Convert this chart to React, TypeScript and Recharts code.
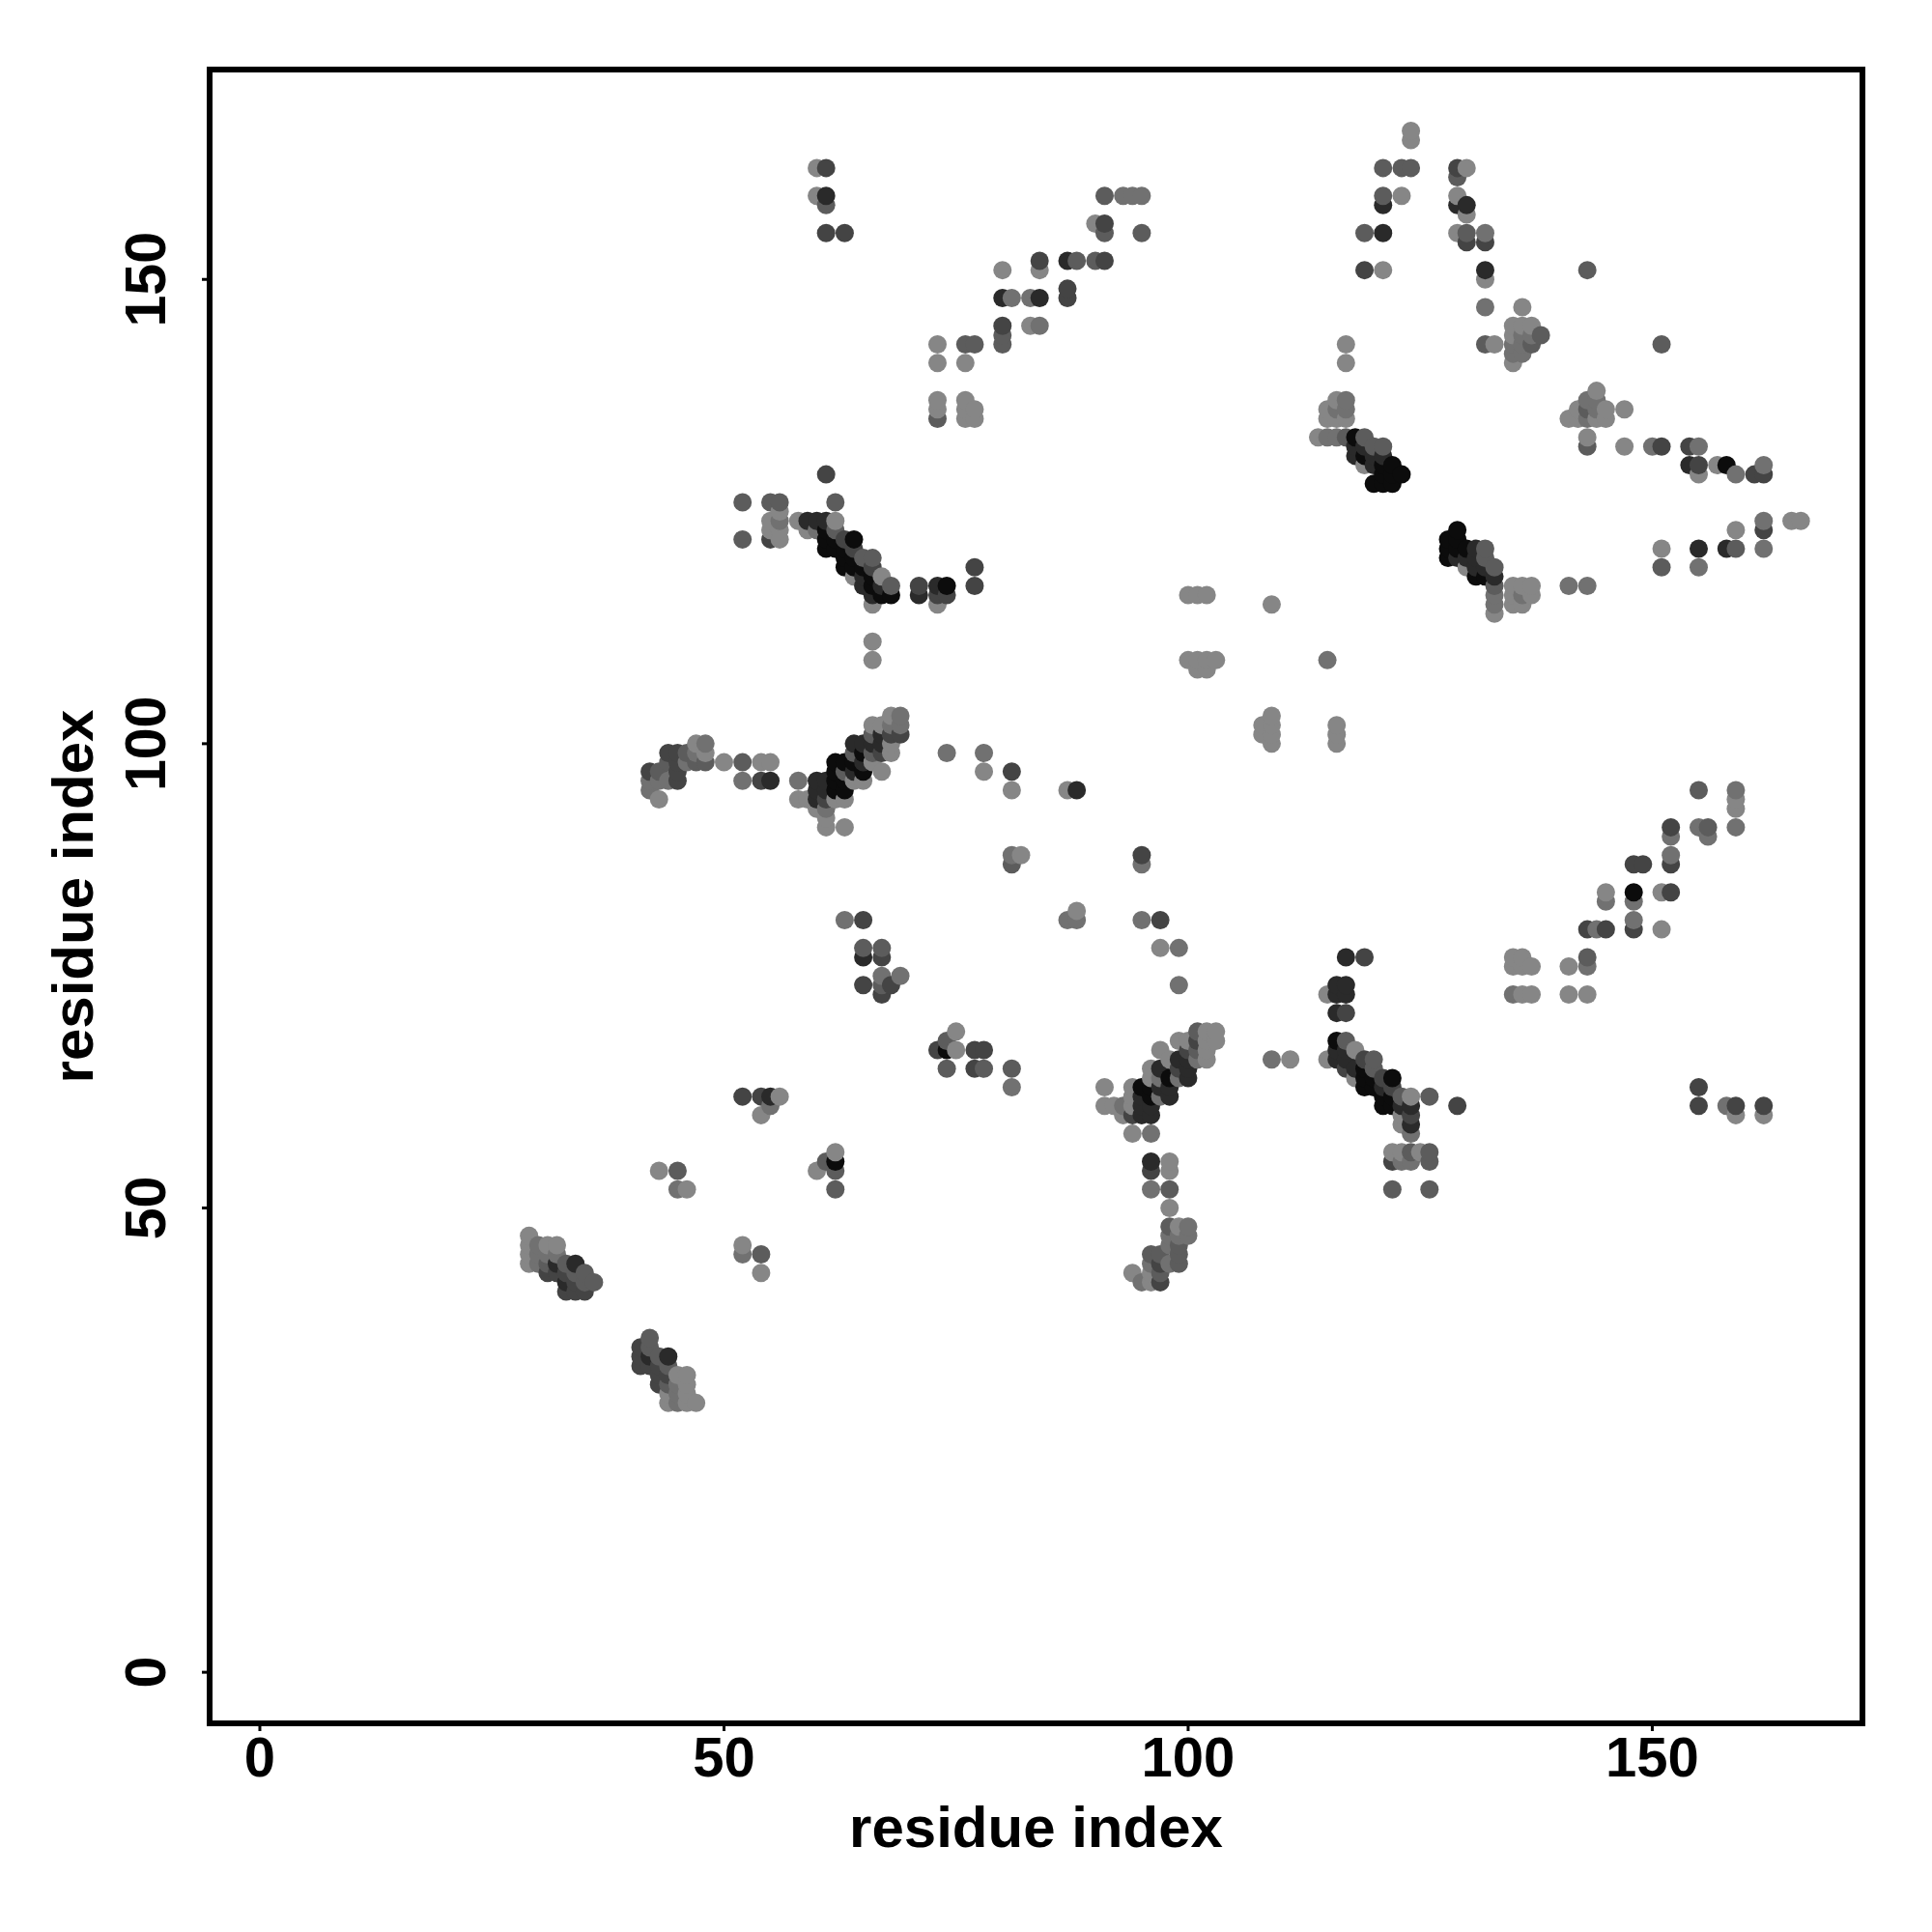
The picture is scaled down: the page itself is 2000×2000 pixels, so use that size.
import React from "react";
import { ScatterChart, Scatter, XAxis, YAxis, ReferenceArea } from "recharts";

// each contact: [residue x, residue y, strength 1 (weak) .. 6 (strong)]
type C = [number, number, number];

const clusterA: C[] = [
  [29,47,1],[29,46,1],[29,45,1],[29,44,1],[30,46,2],[31,46,1],[32,46,1],[30,45,2],[31,45,2],[32,45,2],[30,44,2],
  [31,44,3],[32,44,5],[31,43,4],[32,43,4],[33,44,3],[34,44,5],[33,43,4],[34,43,3],[35,43,3],[33,42,5],[34,42,4],[35,42,3],[36,42,3],[33,41,4],[34,41,4],[35,41,4],
];
const clusterB: C[] = [
  [42,36,3],[41,35,4],[41,34,4],[41,33,4],[42,35,3],[42,34,5],[42,33,4],[43,34,3],[44,34,5],[43,33,4],[43,32,4],[43,31,4],[44,33,3],[44,32,4],[44,31,3],
  [45,32,1],[46,32,1],[45,31,2],[46,31,1],[46,30,1],[45,30,2],[44,30,1],[44,29,1],[45,29,2],[46,29,1],[47,29,1],
];
const lowerLeft: C[] = [
  [43,54,1],[45,54,3],[45,52,2],[46,52,1],[60,54,1],[61,55,3],[62,56,1],[62,55,6],[62,54,3],[62,52,3],[52,46,1],[52,45,2],[54,45,3],[54,43,1],
  [52,62,4],[54,60,1],[54,62,4],[55,62,5],[55,61,2],[56,62,1],
];
const band100Left: C[] = [
  [42,97,4],[42,96,2],[42,95,2],[43,94,1],[43,97,3],[43,96,2],[44,99,4],[45,99,4],[46,99,3],[44,98,3],[45,98,4],[45,97,4],[44,96,2],[45,96,4],
  [46,98,2],[47,100,1],[48,100,2],[47,99,2],[48,99,1],[48,98,3],[47,98,3],[50,98,1],[52,98,3],[54,98,1],[55,98,1],[52,96,2],[54,96,4],[55,96,5],
];
const band100Right: C[] = [
  [58,96,2],[58,94,1],[59,94,1],[60,96,5],[60,95,5],[60,94,5],[61,96,5],[61,95,5],[61,94,4],[60,93,1],[61,93,2],[61,92,1],[61,91,1],[63,91,1],
  [62,98,6],[62,97,6],[63,98,6],[63,97,3],[62,96,6],[62,95,6],[63,96,6],[63,95,6],[62,94,1],[63,94,1],[64,100,5],[64,99,3],[64,98,6],[64,97,5],[65,100,5],[65,99,6],
  [65,98,5],[65,97,6],[64,96,1],[65,96,1],[66,102,1],[66,101,3],[66,100,5],[66,99,3],[66,98,1],[67,97,1],[67,102,1],[67,101,5],[67,100,5],[67,99,4],
  [68,99,1],[68,100,1],[68,103,1],[69,103,2],[68,102,2],[69,102,2],[68,101,4],[69,101,4],
];
const sparseMid: C[] = [
  [74,99,2],[78,99,2],[78,97,1],[81,97,4],[81,95,1],[81,88,2],[82,88,1],[81,87,3],[87,95,1],[88,95,5],[95,88,4],[95,87,2],
  [63,81,2],[65,81,4],[65,78,3],[67,78,3],[65,77,5],[67,77,4],[65,74,4],[67,75,2],[67,74,3],[67,73,4],[68,74,4],[69,75,2],
  [87,81,2],[88,82,1],[88,81,2],[95,81,2],[97,81,4],[97,78,1],[99,78,2],[99,74,2],
  [73,67,4],[74,68,3],[74,67,6],[75,69,1],[75,67,1],[74,65,3],[77,67,4],[78,67,4],[77,65,4],[78,65,3],[81,65,3],[81,63,2],
];
const cluster120Left: C[] = [
  [61,129,4],[52,126,3],[52,122,3],[55,126,3],[56,126,3],[62,126,3],[56,125,1],[55,124,1],[56,124,2],[55,123,1],[56,123,1],[55,122,4],[56,122,1],
  [58,124,1],[59,124,5],[60,124,5],[61,124,5],[62,124,1],[59,123,1],[60,123,2],[61,123,6],[62,123,3],[61,122,6],[61,121,6],[62,122,6],[62,121,6],
  [63,122,4],[64,122,6],[63,121,6],[64,121,4],[63,120,6],[63,119,6],[64,120,6],[64,119,6],[65,120,3],[66,120,3],[66,119,4],[65,119,6],[64,118,1],[65,118,5],[65,117,5],
  [66,118,6],[67,118,1],[66,117,6],[68,117,3],[67,117,5],[66,116,5],[67,116,6],[68,116,6],[66,115,1],[66,111,1],[66,109,1],
  [71,117,4],[71,116,5],[73,117,5],[74,117,6],[73,116,4],[74,116,4],[73,115,1],[77,119,4],[77,117,4],
];
const cluster60Left: C[] = [
  [91,63,1],[91,61,1],[92,61,1],[93,61,2],[93,60,1],[94,63,1],[94,62,1],[94,60,4],[94,58,1],[96,58,2],[95,63,6],[95,62,5],[95,61,5],[95,60,5],[94,61,1],
  [96,62,6],[96,61,5],[96,60,5],[96,65,1],[96,64,1],[96,63,6],[97,67,1],[97,65,5],[98,64,6],[98,66,1],[97,64,2],[97,63,5],[98,63,5],[98,62,5],[97,62,2],
  [99,68,1],[100,68,1],[99,66,5],[100,66,5],[101,69,3],[102,69,1],[103,69,1],[103,68,1],[101,68,4],[101,67,3],[102,68,1],[102,67,1],[102,66,1],[101,66,2],[100,65,5],[99,65,4],[100,64,5],[99,64,2],[100,67,4],
];
const cluster45Right: C[] = [
  [96,55,5],[96,54,4],[98,55,1],[98,54,1],[96,52,2],[98,52,3],[98,50,1],[98,48,3],[99,48,1],[100,48,2],[98,47,2],[99,47,2],[100,47,2],[96,45,3],[97,45,3],[99,45,3],[99,46,3],[98,46,2],
  [99,44,3],[98,44,2],[97,44,4],[96,44,2],[94,43,1],[95,42,2],[96,42,1],[97,42,4],[97,43,3],[96,43,1],
];
const cluster65Right: C[] = [
  [109,66,2],[111,66,1],[115,66,1],[116,68,6],[117,68,3],[116,67,5],[116,66,5],[116,74,5],[117,74,5],[115,73,1],[116,73,5],[117,73,5],[116,71,5],[117,71,4],[117,77,5],[119,77,4],
  [118,67,1],[119,66,4],[120,66,3],[117,67,5],[117,66,5],[117,65,4],[118,65,5],[118,64,1],[119,65,6],[119,64,6],[119,63,6],[120,65,3],[120,64,6],[120,63,6],[121,64,4],[122,64,6],[121,63,5],[122,63,4],
  [121,62,6],[121,61,6],[122,62,6],[122,61,6],[123,62,3],[124,62,1],[126,62,3],[129,61,4],[123,61,5],[124,61,5],[124,60,4],[123,60,1],[123,59,1],[124,59,5],[124,58,2],
  [122,56,1],[123,56,1],[124,56,3],[125,56,1],[126,56,3],[122,55,4],[123,55,2],[124,55,2],[126,55,3],[122,52,3],[126,52,3],
];
const upperLeftArc: C[] = [
  [60,162,1],[61,162,4],[60,159,1],[61,159,5],[61,158,3],[61,155,4],[63,155,4],
  [80,151,1],[87,152,5],[84,152,4],[84,151,1],[88,152,3],[90,152,3],[91,152,4],[91,155,3],[91,156,4],[90,156,1],[91,159,3],[93,159,2],[94,159,2],[95,159,2],[95,155,3],
  [80,148,5],[81,148,2],[83,148,2],[84,148,5],[87,149,4],[87,148,4],[80,145,4],[80,144,3],[80,143,3],[83,145,1],[84,145,2],
  [73,143,1],[73,141,1],[76,143,3],[77,143,3],[76,141,1],[73,137,1],[73,136,1],[73,135,3],[76,137,1],[76,136,1],[77,136,1],[76,135,1],[77,135,1],
];
const upperRightArc: C[] = [
  [124,166,1],[124,165,1],[121,162,3],[123,162,3],[124,162,3],[121,159,3],[121,158,5],[123,159,1],[119,155,3],[121,155,5],[119,151,4],[121,151,1],
  [129,162,4],[130,162,1],[129,161,3],[129,159,1],[129,158,5],[130,158,5],[130,157,1],[129,155,1],[130,155,3],[130,154,4],[132,155,2],[132,154,4],[132,151,5],[132,150,1],[132,147,2],[132,143,3],[133,143,1],[135,143,2],[143,151,3],
  [136,147,1],[135,145,1],[136,145,1],[137,145,1],[135,144,1],[136,144,2],[137,144,2],[138,144,3],[136,143,2],[137,143,3],[135,142,2],[136,142,2],[135,141,1],[151,143,3],[117,143,1],[117,141,1],
];
const cluster130: C[] = [
  [116,137,1],[117,137,2],[115,136,1],[116,136,2],[117,136,2],[115,135,1],[116,135,1],[117,135,1],[114,133,1],[115,133,2],[116,133,2],[117,133,3],[118,133,6],[119,133,3],
  [118,132,5],[118,131,5],[119,132,5],[119,131,6],[119,130,1],[120,132,3],[121,132,3],[121,131,5],[120,131,5],[120,130,5],[121,130,6],[122,130,6],[121,129,6],[122,129,6],[123,129,6],[120,128,6],[121,128,6],[122,128,6],
];
const cluster120Right: C[] = [
  [129,123,6],[128,122,6],[129,122,6],[128,121,6],[128,120,6],[129,121,6],[129,120,5],[130,121,6],[131,121,5],[132,121,3],[132,120,3],[130,120,5],[131,120,5],[133,119,3],[130,119,1],[131,119,5],[132,119,5],
  [131,118,6],[132,118,6],[133,118,5],[133,117,3],[133,116,2],[133,115,2],[133,114,1],[135,117,1],[136,117,1],[137,117,1],[135,116,1],[136,116,2],[137,116,1],[135,115,1],[136,115,1],
  [141,117,2],[143,117,2],[151,121,1],[151,119,3],[155,121,5],[155,119,2],[158,121,5],[159,121,3],[159,123,1],[162,121,2],[162,123,4],[162,124,2],[165,124,1],[166,124,1],
];
const upperRightTail: C[] = [
  [144,138,1],[143,137,2],[144,137,2],[142,136,1],[143,136,3],[144,136,2],[145,136,1],[147,136,1],[141,135,1],[142,135,1],[143,135,2],[144,135,1],[145,135,1],[143,133,1],[143,132,3],
  [147,132,1],[150,132,2],[151,132,4],[154,132,4],[155,132,2],[154,130,5],[155,130,4],[157,130,1],[158,130,6],[155,129,1],[159,129,2],[161,129,4],[162,129,4],[162,130,2],
];
const lowerRight: C[] = [
  [155,95,3],[159,95,2],[159,94,1],[159,93,1],[155,91,2],[156,91,3],[156,90,2],[159,91,2],[152,91,4],[152,90,2],[152,88,2],[152,87,4],[148,87,4],[149,87,4],[148,84,6],[148,83,2],[151,84,1],[152,84,4],
  [145,84,1],[145,83,2],[143,80,4],[144,80,2],[145,80,4],[148,81,2],[148,80,4],[151,80,1],[143,77,3],[143,76,2],[141,76,1],[141,73,1],[143,73,1],
  [135,77,1],[136,77,1],[135,76,1],[136,76,1],[137,76,1],[135,73,2],[136,73,1],[137,73,1],
  [155,63,4],[155,61,4],[158,61,2],[159,61,4],[159,60,1],[162,61,4],[162,60,1],
];
const center: C[] = [
  [100,116,1],[101,116,1],[102,116,1],[109,115,1],[100,109,1],[101,109,1],[102,109,1],[103,109,1],[101,108,1],[102,108,1],[115,109,2],
  [109,103,1],[108,102,1],[109,102,1],[108,101,1],[109,101,1],[109,100,1],[116,102,1],[116,101,1],[116,100,1],
];

const tickValues = [0, 50, 100, 150];
const axisTitle = "residue index";
const domainX: [number, number] = [-5.41, 172.64];
const domainY: [number, number] = [-5.5, 172.6];
const grays = ["#868686", "#717171", "#5c5c5c", "#444444", "#2a2a2a", "#0c0c0c"];

const contacts = [
  ...clusterA, ...clusterB, ...lowerLeft, ...band100Left, ...band100Right, ...sparseMid, ...cluster120Left, ...cluster60Left,
  ...cluster45Right, ...cluster65Right, ...upperLeftArc, ...upperRightArc, ...cluster130, ...cluster120Right, ...upperRightTail, ...lowerRight, ...center,
]
  .map(([x, y, s]) => ({ x, y, s }))
  .sort((a, b) => a.x - b.x || a.y - b.y);

const font = "'Liberation Sans', Arial, sans-serif";

const Dot = (p: any) => <circle cx={p.cx} cy={p.cy} r={9.5} fill={grays[p.payload.s - 1]} />;

const XTick = (p: any) => (
  <text x={p.x} y={p.y + 45} textAnchor="middle" fontFamily={font} fontWeight="bold" fontSize={58} fill="#000">
    {p.payload.value}
  </text>
);
const YTick = (p: any) => (
  <text
    transform={`translate(${p.x - 36} ${p.y}) rotate(-90)`}
    textAnchor="middle"
    fontFamily={font}
    fontWeight="bold"
    fontSize={59}
    fill="#000"
  >
    {p.payload.value}
  </text>
);

export default function App() {
  return (
    <div style={{ position: "absolute", left: 0, top: 0, width: 2000, height: 2000, background: "#fff" }}>
      <ScatterChart width={2000} height={2000} margin={{ top: 72, right: 72, bottom: 0, left: 0 }}>
        <XAxis
          type="number"
          dataKey="x"
          domain={domainX}
          ticks={tickValues}
          allowDataOverflow
          height={216}
          axisLine={false}
          tickLine={{ stroke: "#000", strokeWidth: 3 }}
          tickSize={8}
          tick={<XTick />}
          interval={0}
          label={{
            value: axisTitle,
            position: "insideBottom",
            offset: 88,
            style: { fontFamily: font, fontWeight: "bold", fontSize: 60, fill: "#000" },
          }}
        />
        <YAxis
          type="number"
          dataKey="y"
          domain={domainY}
          ticks={tickValues}
          allowDataOverflow
          width={217}
          axisLine={false}
          tickLine={{ stroke: "#000", strokeWidth: 3 }}
          tickSize={8}
          tick={<YTick />}
          interval={0}
          label={{
            value: axisTitle,
            angle: -90,
            position: "insideLeft",
            offset: 75,
            style: { textAnchor: "middle", fontFamily: font, fontWeight: "bold", fontSize: 60, fill: "#000" },
          }}
        />
        <ReferenceArea
          x1={domainX[0]}
          x2={domainX[1]}
          y1={domainY[0]}
          y2={domainY[1]}
          fill="none"
          stroke="#000"
          strokeWidth={6}
          ifOverflow="visible"
        />
        <Scatter data={contacts} shape={<Dot />} isAnimationActive={false} />
      </ScatterChart>
    </div>
  );
}
